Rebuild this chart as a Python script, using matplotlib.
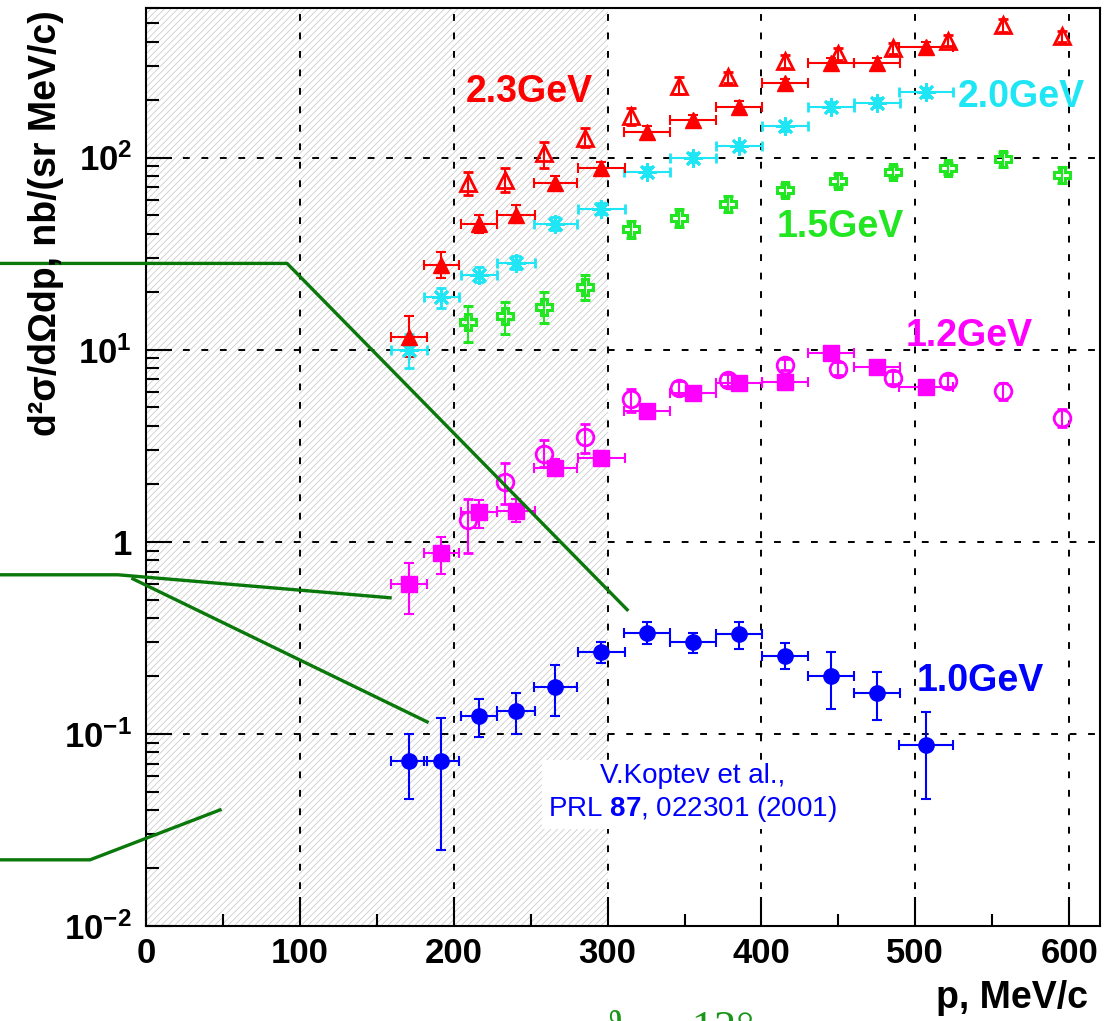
import matplotlib
matplotlib.use('Agg')
import numpy as np
import matplotlib.pyplot as plt
from matplotlib.ticker import FixedLocator, NullFormatter

plt.rcParams['font.family'] = ['Liberation Sans', 'DejaVu Sans']
plt.rcParams['mathtext.fontset'] = 'custom'
plt.rcParams['mathtext.rm'] = 'Liberation Sans'
plt.rcParams['mathtext.bf'] = 'Liberation Sans:bold'
plt.rcParams['hatch.linewidth'] = 0.5

# momentum bins, MeV/c
p_full = [171, 192, 216.5, 240.6, 266, 296, 325.6, 355.7, 385.6, 415.5, 445.4, 475.3, 507]
dp_full = [11.5, 11.5, 11.5, 12.5, 14, 15, 15, 15, 15, 15, 15, 15, 17.5]
p_open = [209, 233, 258.8, 285.4, 315, 346.5, 378, 415.5, 450, 485.7, 521.5, 557, 595]

# 1.0 GeV (full circles)
y10 = [0.072, 0.072, 0.124, 0.132, 0.176, 0.267, 0.336, 0.301, 0.332, 0.255, 0.200, 0.164, 0.0877]
y10_lo = [0.046, 0.025, 0.096, 0.100, 0.124, 0.234, 0.294, 0.264, 0.277, 0.218, 0.135, 0.118, 0.046]
y10_hi = [0.100, 0.121, 0.152, 0.164, 0.229, 0.300, 0.383, 0.336, 0.380, 0.298, 0.267, 0.210, 0.130]

# 1.2 GeV full squares / open circles
y12 = [0.604, 0.877, 1.42, 1.45, 2.43, 2.74, 4.81, 5.97, 6.73, 6.81, 9.64, 8.15, 6.41]
y12_lo = [0.42, 0.68, 1.18, 1.26, 2.2, 2.55, 4.5, 5.6, 6.3, 6.2, 9.0, 7.6, 5.9]
y12_hi = [0.778, 1.06, 1.64, 1.66, 2.7, 2.95, 5.1, 6.3, 7.1, 7.4, 10.3, 8.7, 6.9]
y12o = [1.30, 2.05, 2.87, 3.52, 5.56, 6.34, 6.98, 8.35, 7.97, 7.14, 6.90, 6.10, 4.43]
y12o_lo = [0.877, 1.58, 2.45, 2.91, 4.75, 5.8, 6.5, 7.8, 7.4, 6.6, 6.4, 5.5, 3.95]
y12o_hi = [1.67, 2.58, 3.40, 4.12, 6.27, 6.9, 7.5, 8.9, 8.6, 7.7, 7.4, 6.7, 4.9]

# 1.5 GeV
y15 = [14.0, 14.9, 16.7, 21.3, 42.2, 48.7, 57.5, 68.1, 75.9, 84.5, 87.7, 97.7, 81.5]
y15_lo = [11.0, 12.0, 13.8, 18.2, 38, 43.5, 52, 63, 70, 79, 82, 89, 74]
y15_hi = [16.9, 17.6, 20.0, 24.6, 46.5, 54, 63, 73, 82, 90, 94, 107, 89]

# 2.0 GeV
y20 = [10.0, 18.7, 24.6, 28.4, 45.3, 54.2, 84.5, 100, 115, 145, 184, 193, 218]
y20_lo = [8.05, 16.5, 22.5, 26.3, 42, 51, 80, 95, 109, 137, 174, 183, 206]
y20_hi = [12.0, 21.0, 26.8, 30.7, 48.8, 57.7, 89, 105, 121, 153, 194, 203, 230]

# 2.3 GeV full / open triangles
y23 = [11.7, 27.7, 45.3, 50.5, 74, 88.7, 136, 156, 184, 243, 309, 312, 378]
y23_lo = [9.1, 23.7, 40.6, 45.8, 68, 82, 127, 146, 173, 230, 290, 295, 358]
y23_hi = [14.9, 32.4, 50.5, 56.9, 80, 95, 145, 166, 196, 256, 328, 330, 398]
y23o = [73.3, 76.7, 105, 127, 164, 237, 261, 316, 347, 370, 406, 487, 427]
y23o_lo = [64.1, 66.5, 88.7, 113, 147, 215, 243, 294, 322, 347, 380, 452, 397]
y23o_hi = [83.6, 88.7, 121, 143, 182, 262, 280, 340, 372, 394, 432, 524, 458]

# leader lines coming from outside the frame
lineA_x, lineA_y = [-100, 91.7, 312.7], [28.1, 28.1, 0.443]
lineB_x, lineB_y = [-100, -18.2, 158.6], [0.673, 0.673, 0.511]
lineC_x, lineC_y = [-8.5, 182.7], [0.641, 0.1155]
lineD_x, lineD_y = [-100, -36.4, 48.1], [0.0221, 0.0221, 0.0402]

x_major = [0, 100, 200, 300, 400, 500, 600]
x_minor = [50, 150, 250, 350, 450, 550]
y_major = [0.01, 0.1, 1, 10, 100]
y_labels = [r'$\mathbf{10^{-2}}$', r'$\mathbf{10^{-1}}$', '1', r'$\mathbf{10^{1}}$', r'$\mathbf{10^{2}}$']

fig = plt.figure(figsize=(11.1, 10.21), dpi=100)
ax = fig.add_axes([146 / 1110, 1 - 926 / 1021, 954 / 1110, 918 / 1021])
ax.set_yscale('log')
ax.set_xlim(0, 620)
ax.set_ylim(0.01, 600)

ax.axvspan(0, 300, facecolor='white', edgecolor='#c4c4c4', hatch='/////', lw=0, zorder=0)
ax.grid(True, which='major', color='black', linestyle=(0, (3.5, 6)), lw=1.4, zorder=1)


def errs(y, lo, hi):
    y = np.array(y)
    return [y - np.array(lo), np.array(hi) - y]


ekw = dict(elinewidth=1.5, capsize=3.5, capthick=1.5, linestyle='none', zorder=3)
ax.errorbar(p_full, y10, yerr=errs(y10, y10_lo, y10_hi), xerr=dp_full, color='#0000ff',
            marker='o', ms=11, **ekw)
ax.errorbar(p_full, y12, yerr=errs(y12, y12_lo, y12_hi), xerr=dp_full, color='#ff00ff',
            marker='s', ms=11, **ekw)
ax.errorbar(p_open, y12o, yerr=errs(y12o, y12o_lo, y12o_hi), color='#ff00ff',
            marker='o', ms=12, mfc='none', mew=2, **ekw)
ax.errorbar(p_open, y15, yerr=errs(y15, y15_lo, y15_hi), color='#22e622',
            marker='P', ms=12, mfc='none', mew=2.2, **ekw)
ax.errorbar(p_full, y20, yerr=errs(y20, y20_lo, y20_hi), xerr=dp_full, color='#1ee6f5',
            marker=(8, 2, 0), ms=13, mew=2, **ekw)
ax.errorbar(p_full, y23, yerr=errs(y23, y23_lo, y23_hi), xerr=dp_full, color='#ff0000',
            marker='^', ms=11, **ekw)
ax.errorbar(p_open, y23o, yerr=errs(y23o, y23o_lo, y23o_hi), color='#ff0000',
            marker='^', ms=11, mfc='none', mew=2, **ekw)

for lx, ly in [(lineA_x, lineA_y), (lineB_x, lineB_y), (lineC_x, lineC_y), (lineD_x, lineD_y)]:
    ax.plot(lx, ly, color='#0a780a', lw=2.4, clip_on=False, zorder=4)

lab = dict(fontsize=27, fontweight='bold', ha='center', va='center', zorder=5)
ax.text(249, 218, '2.3GeV', color='#ff0000', **lab)
ax.text(569, 206, '2.0GeV', color='#1ee6f5', **lab)
ax.text(451, 43.7, '1.5GeV', color='#22e622', **lab)
ax.text(535, 11.8, '1.2GeV', color='#ff00ff', **lab)
ax.text(542, 0.189, '1.0GeV', color='#0000ff', **lab)

ax.text(355, 0.049, 'V.Koptev et al.,\nPRL $\\mathbf{87}$, 022301 (2001)', color='#0000ff',
        fontsize=20, ha='center', va='center', multialignment='center', linespacing=1.2,
        bbox=dict(facecolor='white', edgecolor='none', pad=4), zorder=5)

# ticks
ax.set_xticks(x_major)
ax.set_xticks(x_minor, minor=True)
ax.set_xticklabels([str(v) for v in x_major])
ax.yaxis.set_major_locator(FixedLocator(y_major))
ax.yaxis.set_minor_locator(FixedLocator([m * 10.0 ** e for e in range(-2, 3) for m in range(2, 10)]))
ax.yaxis.set_minor_formatter(NullFormatter())
ax.set_yticklabels(y_labels)
ax.tick_params(axis='x', which='major', direction='in', length=21, width=1.5, pad=8,
               labelsize=25, top=False)
ax.tick_params(axis='x', which='minor', direction='in', length=9, width=1.5, top=False)
ax.tick_params(axis='y', which='major', direction='in', length=19, width=1.5, pad=10,
               labelsize=25, right=False)
ax.tick_params(axis='y', which='minor', direction='in', length=9, width=1.5, right=False)
for t in ax.get_xticklabels() + ax.get_yticklabels():
    t.set_fontweight('bold')
for s in ax.spines.values():
    s.set_linewidth(1.5)

fig.text(46 / 1110, 1 - 10 / 1021, 'd²σ/dΩdp, nb/(sr MeV/c)', rotation=90, fontsize=27,
         fontweight='bold', ha='center', va='top')
fig.text(1088 / 1110, 1 - 998 / 1021, 'p, MeV/c', fontsize=27, fontweight='bold',
         ha='right', va='center')
# angle label of the original figure, mostly below the visible area
fig.text(600 / 1110, -0.02, 'ϑ  =  12°', fontsize=32, color='#1a961a',
         family=['Liberation Serif', 'DejaVu Serif'], ha='left', va='baseline')

fig.savefig('out.png', dpi=100)
